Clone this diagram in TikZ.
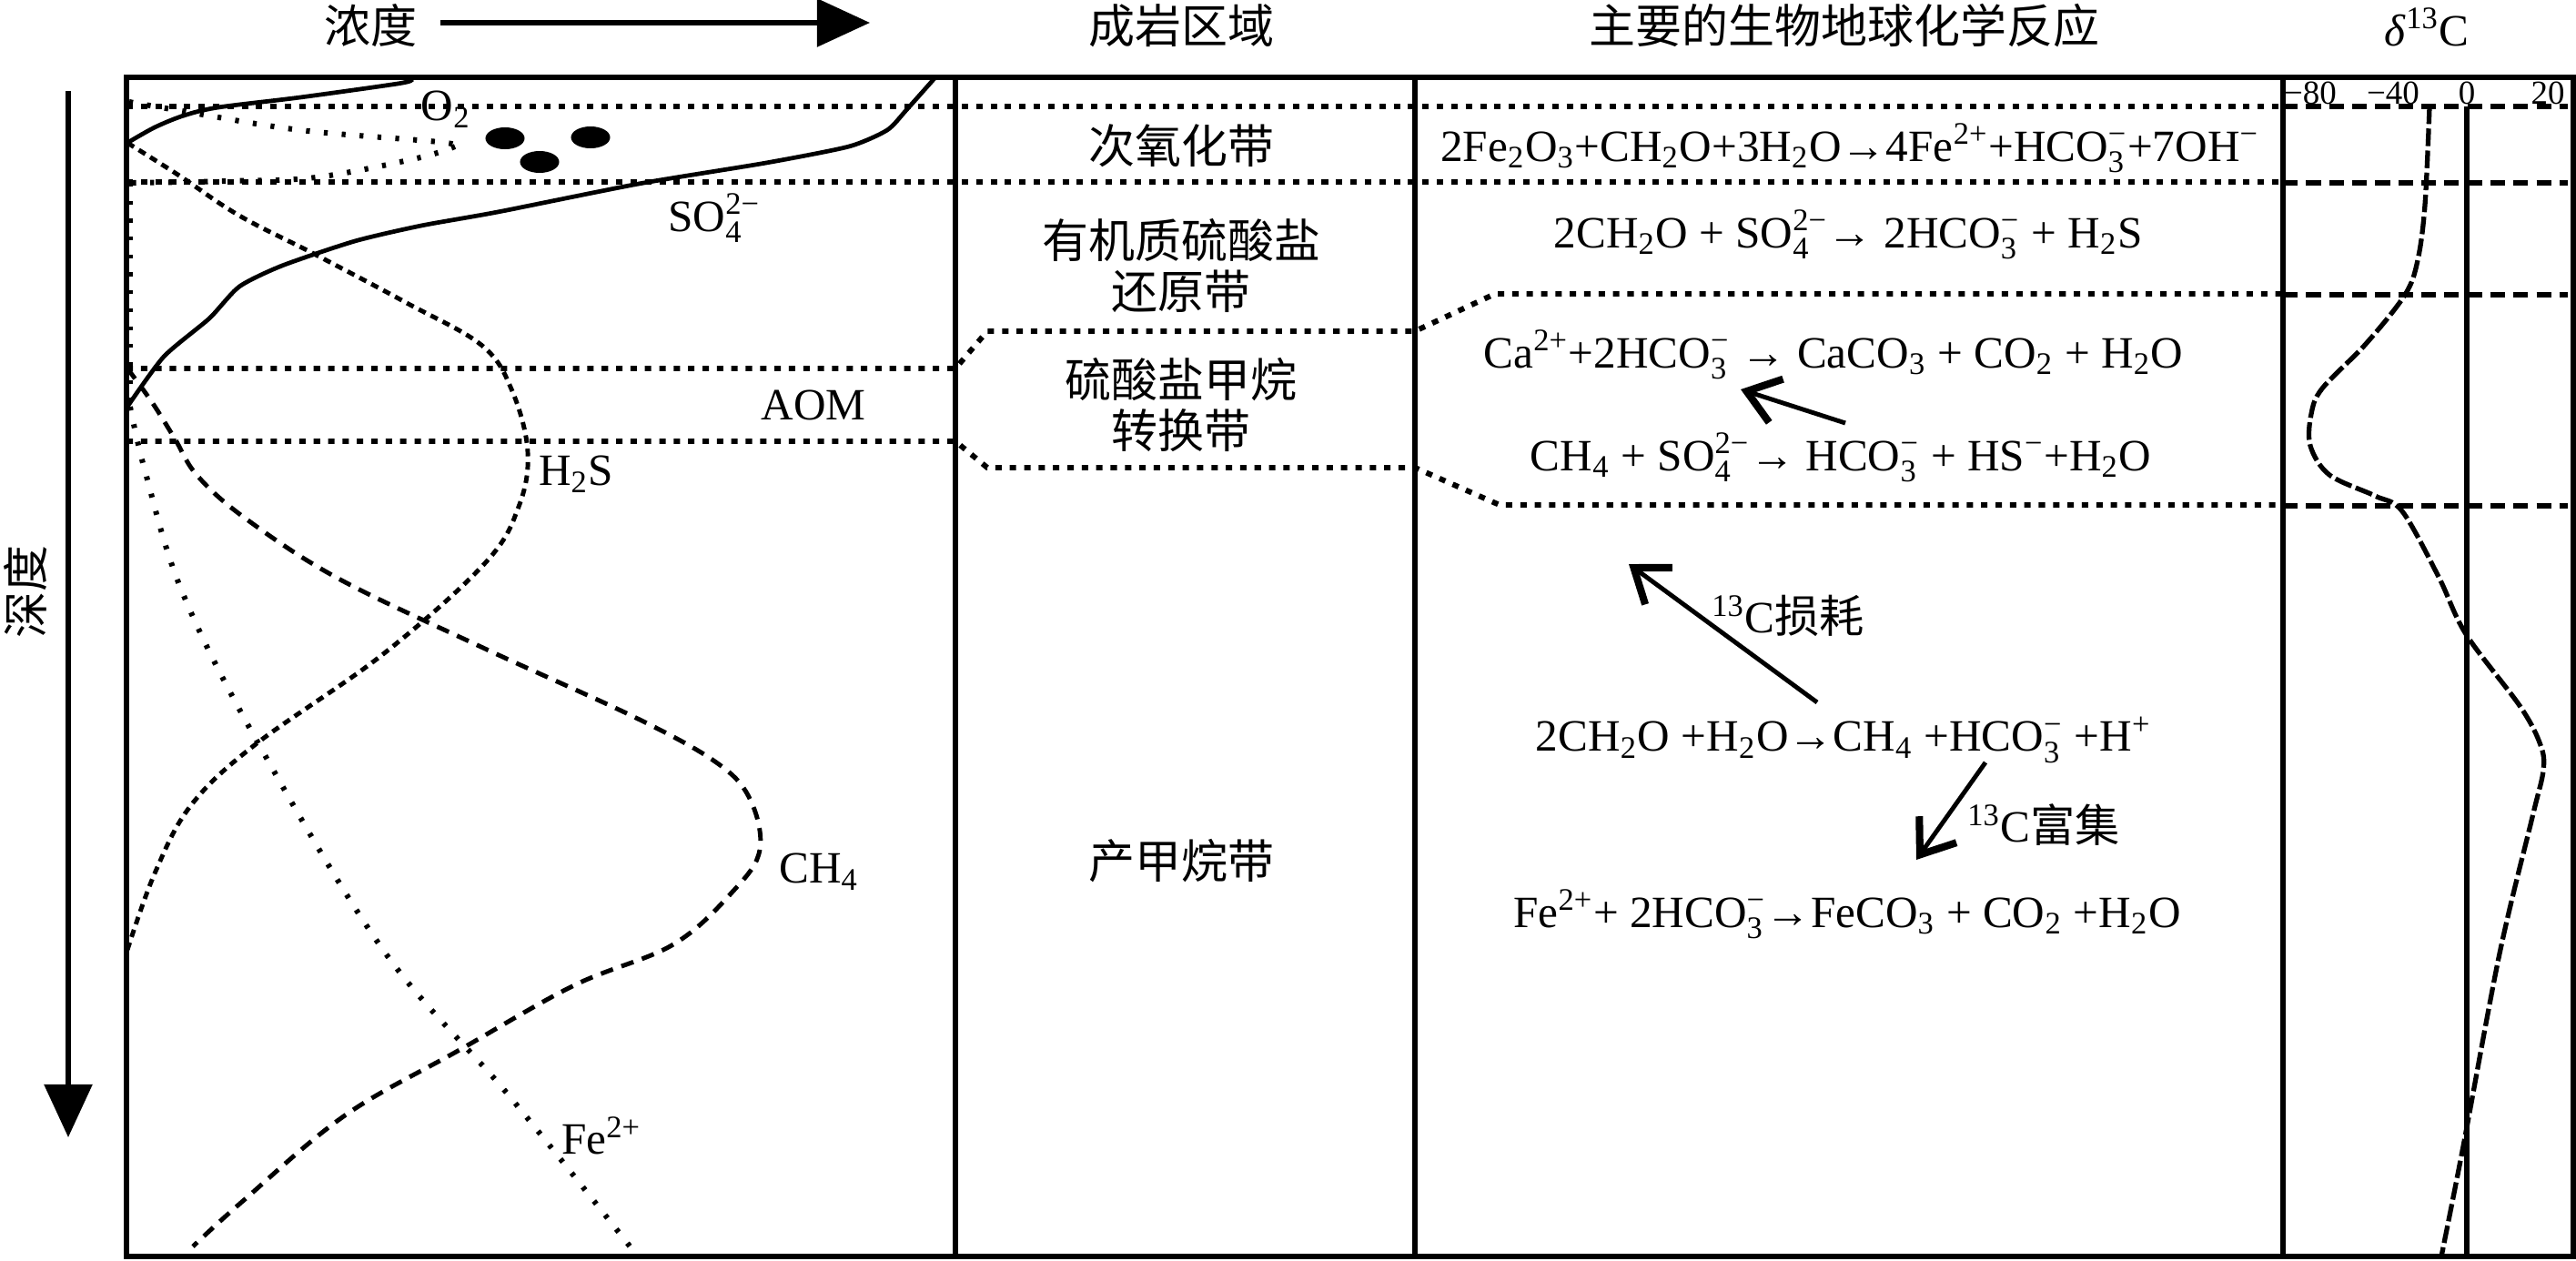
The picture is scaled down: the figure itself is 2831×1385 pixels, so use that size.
\documentclass[tikz,border=0pt]{standalone}
\usepackage{amsmath}
\usepackage{fontspec}
\setmainfont{Liberation Serif}
\newfontfamily\cjk{Noto Sans CJK SC}
\usetikzlibrary{arrows.meta}
\newcommand{\chsub}[1]{\ensuremath{{}_{\text{#1}}}}
\newcommand{\chsup}[1]{\ensuremath{{}^{\text{#1}}}}
\newcommand{\chion}[2]{\ensuremath{{}_{\text{#1}}^{\text{#2}}}}

\begin{document}
\begin{tikzpicture}[x=0.01cm, y=-0.01cm,
		frame/.style={line width=1.45pt},
		zonedot/.style={line width=1.7pt, dash pattern=on 2pt off 2.5pt},
		zonedash/.style={line width=1.6pt, dash pattern=on 4.6pt off 2.6pt},
		so4line/.style={line width=1.35pt},
		h2sline/.style={line width=1.4pt, dash pattern=on 2.4pt off 1.8pt},
		ch4line/.style={line width=1.4pt, dash pattern=on 4pt off 2.8pt},
		feline/.style={line width=1.7pt, dash pattern=on 1.2pt off 4.4pt},
		dcline/.style={line width=1.5pt, dash pattern=on 5.5pt off 1.4pt},
		bigarrow/.style={line width=1.6pt, -{Triangle[length=0.58cm, width=0.52cm]}},
		rxarrow/.style={line width=1.4pt, -{Straight Barb[length=0.34cm, width=0.5cm, line width=2.3pt]}},
		cjklbl/.style={font=\cjk\fontsize{14.5}{15.9}\selectfont, align=center, inner sep=0pt},
		chemlbl/.style={font=\fontsize{14}{17}\selectfont, inner sep=0pt},
		ticklbl/.style={font=\fontsize{10.5}{12}\selectfont, inner sep=0pt}]
		%%%%% START %%%%%
		
		\useasboundingbox (0,0) rectangle (2831,1385);
		
		% headings
		\node[cjklbl] (hdconc) at (407,28) {浓度};
		\coordinate (concfrom) at (484,25);
		\coordinate (concto) at (956,25);
		\draw[bigarrow] (concfrom) -- (concto);
		\node[cjklbl] (hdzone) at (1298,28) {成岩区域};
		\node[cjklbl] (hdreact) at (2027,28) {主要的生物地球化学反应};
		\node[chemlbl] (hddelta) at (2667,30) {\textit{δ}\chsup{13}C};
		
		% depth axis
		\coordinate (depthfrom) at (75,100);
		\coordinate (depthto) at (75,1250);
		\draw[bigarrow] (depthfrom) -- (depthto);
		\node[cjklbl, rotate=90] (lbldepth) at (28,650) {深度};
		
		% zone boundaries
		\draw[zonedot] (139,117) -- (2509,117);
		\draw[zonedot] (139,200) -- (2509,200);
		\draw[zonedot] (139,405) -- (1050,405) -- (1085,364) -- (1555,364) -- (1643,323) -- (2509,323);
		\draw[zonedot] (139,485) -- (1050,485) -- (1085,514) -- (1555,514) -- (1648,555) -- (2509,555);
		\draw[zonedash] (2509,117) -- (2822,117);
		\draw[zonedash] (2509,201) -- (2822,201);
		\draw[zonedash] (2509,324) -- (2822,324);
		\draw[zonedash] (2509,556) -- (2822,556);
		
		% concentration profiles
		\draw[so4line] plot[smooth, tension=0.5] coordinates {(452,88) (437,92) (330,107) (240,118) (202,127) (170,140) (140,157)};
		\draw[so4line] plot[smooth, tension=0.4] coordinates {(1028,85) (996,121) (975,143) (933,161) (842,179) (702,202) (547,233) (463,248) (390,265) (310,292) (263,315) (230,350) (180,392) (140,447)};
		\draw[h2sline] plot[smooth, tension=0.6] coordinates {(140,157) (197,193) (263,237) (347,280) (447,333) (530,380) (563,430) (580,497) (570,557) (533,619) (421,719) (281,818) (210,885) (170,960) (140,1044)};
		\draw[ch4line] plot[smooth, tension=0.6] coordinates {(140,405) (167,442) (192,482) (217,523) (270,570) (372,636) (533,713) (701,790) (790,840) (825,880) (835,934) (807,978) (740,1038) (631,1083) (505,1154) (379,1226) (267,1320) (212,1370)};
		\draw[feline] plot[smooth, tension=0.6] coordinates {(142,112) (200,122) (330,143) (482,156) (500,161)};
		\draw[feline] plot[smooth, tension=0.6] coordinates {(500,161) (458,174) (347,195) (250,199) (145,201)};
		\draw[feline] (143,201) -- (143,447);
		\draw[feline] plot[smooth, tension=0.6] coordinates {(143,447) (160,520) (200,650) (281,812) (421,1044) (560,1205) (701,1381)};
		
		\fill (555,152) ellipse [x radius=0.215cm, y radius=0.12cm];
		\fill (649,151) ellipse [x radius=0.215cm, y radius=0.12cm];
		\fill (593,178) ellipse [x radius=0.215cm, y radius=0.12cm];
		
		\node[chemlbl] (lblo2) at (490,120) {O\chsub{2}};
		\node[chemlbl] (lblso4) at (785,240) {SO\chion{4}{2−}};
		\node[chemlbl] (lblaom) at (894,445) {AOM};
		\node[chemlbl] (lblh2s) at (633,521) {H\chsub{2}S};
		\node[chemlbl] (lblch4) at (900,958) {CH\chsub{4}};
		\node[chemlbl] (lblfe) at (661,1248) {Fe\chsup{2+}};
		
		% diagenetic zones
		\node[cjklbl] (zsubox) at (1298,160) {次氧化带};
		\node[cjklbl] (zsr) at (1298,292) {有机质硫酸盐\\还原带};
		\node[cjklbl] (zsmtz) at (1298,445) {硫酸盐甲烷\\转换带};
		\node[cjklbl] (zmeth) at (1298,946) {产甲烷带};
		
		% reactions
		\node[chemlbl] (rxsubox) at (2033,163) {2Fe\chsub{2}O\chsub{3}+CH\chsub{2}O+3H\chsub{2}O→4Fe\chsup{2+}+HCO\chion{3}{−}+7OH\chsup{−}};
		\node[chemlbl] (rxsr) at (2031,258) {2CH\chsub{2}O + SO\chion{4}{2−}→ 2HCO\chion{3}{−} + H\chsub{2}S};
		\node[chemlbl] (rxcarb) at (2015,390) {Ca\chsup{2+}+2HCO\chion{3}{−} → CaCO\chsub{3} + CO\chsub{2} + H\chsub{2}O};
		\node[chemlbl] (rxaom) at (2023,503) {CH\chsub{4} + SO\chion{4}{2−}→ HCO\chion{3}{−} + HS\chsup{−}+H\chsub{2}O};
		\node[chemlbl] (rxmeth) at (2026,813) {2CH\chsub{2}O +H\chsub{2}O→CH\chsub{4} +HCO\chion{3}{−} +H\chsup{+}};
		\node[chemlbl] (rxsid) at (2030,1005) {Fe\chsup{2+}+ 2HCO\chion{3}{−}→FeCO\chsub{3} + CO\chsub{2} +H\chsub{2}O};
		
		\coordinate (aomfrom) at (2028,465);
		\coordinate (aomto) at (1913,428);
		\draw[rxarrow] (aomfrom) -- (aomto);
		\coordinate (deplfrom) at (1997,772);
		\coordinate (deplto) at (1790,620);
		\draw[rxarrow] (deplfrom) -- (deplto);
		\coordinate (enrfrom) at (2182,838);
		\coordinate (enrto) at (2106,945);
		\draw[rxarrow] (enrfrom) -- (enrto);
		\node[chemlbl] (lbldepl) at (1965,677) {\chsup{13}C{\cjk 损耗}};
		\node[chemlbl] (lblenr) at (2246,907) {\chsup{13}C{\cjk 富集}};
		
		% carbon isotope column
		\node[ticklbl] (tk80) at (2539,102) {−80};
		\node[ticklbl] (tk40) at (2630,102) {−40};
		\node[ticklbl] (tk0) at (2711,102) {0};
		\node[ticklbl] (tk20) at (2800,102) {20};
		\draw[line width=1.45pt] (2711,117) -- (2711,1381);
		\draw[dcline] plot[smooth, tension=0.55] coordinates {(2670,117) (2665,225) (2657,286) (2643,324) (2600,378) (2552,427) (2540,455) (2539,490) (2560,522) (2610,545) (2640,562) (2680,634) (2710,697) (2770,777) (2792,819) (2795,847) (2783,898) (2747,1048) (2707,1260) (2683,1381)};
		
		% frame
		\draw[frame] (139,85) rectangle (2828,1381);
		\draw[frame] (1050,85) -- (1050,1381);
		\draw[frame] (1555,85) -- (1555,1381);
		\draw[frame] (2509,85) -- (2509,1381);
		
		%%%%% END %%%%%
	\end{tikzpicture}
\end{document}
